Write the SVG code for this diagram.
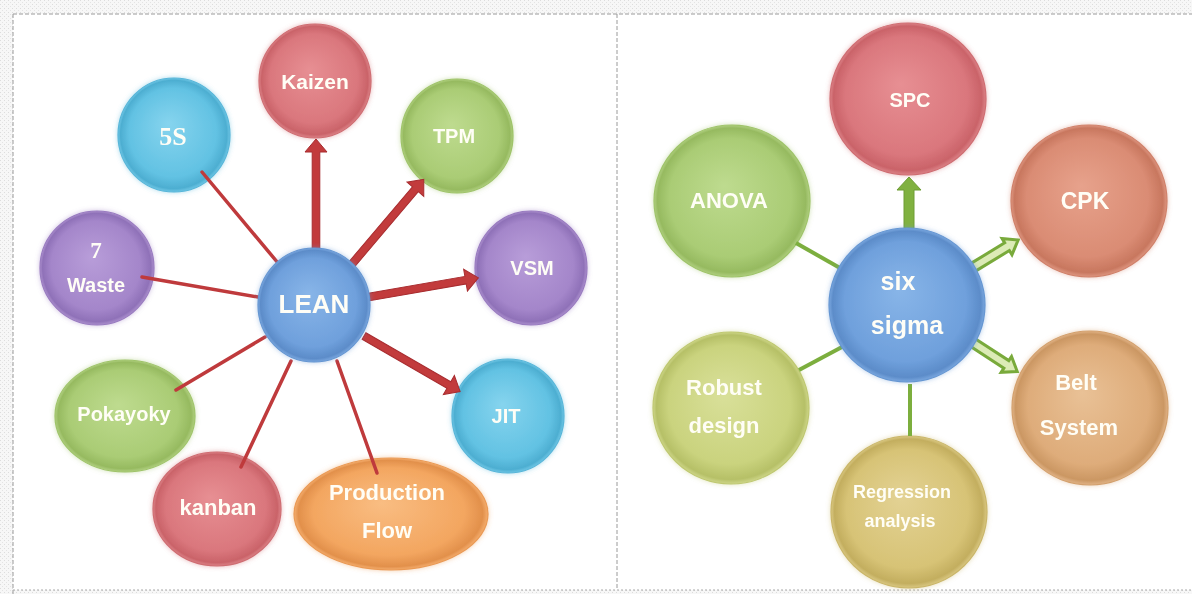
<svg xmlns="http://www.w3.org/2000/svg" xmlns:xlink="http://www.w3.org/1999/xlink" width="1192" height="594" viewBox="0 0 1192 594">
  <style>
    .lbl { font-family: "Liberation Sans", Arial, sans-serif; font-weight: bold; fill: #fffef6; text-anchor: middle; }
    .serif { font-family: "Liberation Serif", "Times New Roman", serif; }
    .node { filter: url(#soft); }
    .frame { fill: none; stroke: #9a9a9a; stroke-width: 1; stroke-dasharray: 4 2; }
    .thin-red { stroke: #bf3a3c; stroke-width: 3.5; stroke-linecap: round; }
    .thin-green { stroke: #7cae3e; stroke-width: 4; stroke-linecap: butt; }
  </style>
  <defs>
    <pattern id="paper" width="4" height="4" patternUnits="userSpaceOnUse">
      <rect width="4" height="4" fill="#f7f7f7"/>
      <rect x="0" y="0" width="1" height="1" fill="#dddddd"/>
      <rect x="2" y="2" width="1" height="1" fill="#e4e4e4"/>
    </pattern>
    <filter id="soft" x="-20%" y="-20%" width="140%" height="140%">
      <feGaussianBlur in="SourceGraphic" stdDeviation="2.5" result="b"/>
      <feColorMatrix in="b" type="matrix" values="1 0 0 0 0  0 1 0 0 0  0 0 1 0 0  0 0 0 0.5 0" result="halo"/>
      <feMerge><feMergeNode in="halo"/><feMergeNode in="SourceGraphic"/></feMerge>
    </filter>
    <!-- node fills: light centre, body colour, darker rim -->
    <radialGradient id="g-red" cx="50%" cy="50%" r="50%" fx="45%" fy="40%">
      <stop offset="0" stop-color="#e78f93"/><stop offset="0.78" stop-color="#da777d"/><stop offset="0.95" stop-color="#ca6369"/><stop offset="1" stop-color="#dc8287"/>
    </radialGradient>
    <radialGradient id="g-sky" cx="50%" cy="50%" r="50%" fx="45%" fy="40%">
      <stop offset="0" stop-color="#86d4ee"/><stop offset="0.78" stop-color="#62c2e3"/><stop offset="0.95" stop-color="#4daed1"/><stop offset="1" stop-color="#6ec6e5"/>
    </radialGradient>
    <radialGradient id="g-green" cx="50%" cy="50%" r="50%" fx="45%" fy="40%">
      <stop offset="0" stop-color="#bedb8f"/><stop offset="0.78" stop-color="#aacc75"/><stop offset="0.95" stop-color="#96ba60"/><stop offset="1" stop-color="#b0cf7f"/>
    </radialGradient>
    <radialGradient id="g-purple" cx="50%" cy="50%" r="50%" fx="45%" fy="40%">
      <stop offset="0" stop-color="#b89dd9"/><stop offset="0.78" stop-color="#a486ca"/><stop offset="0.95" stop-color="#8f71b8"/><stop offset="1" stop-color="#ab8fcd"/>
    </radialGradient>
    <radialGradient id="g-blue" cx="50%" cy="50%" r="50%" fx="45%" fy="40%">
      <stop offset="0" stop-color="#88b5e8"/><stop offset="0.78" stop-color="#6fa0dc"/><stop offset="0.95" stop-color="#5c8cc9"/><stop offset="1" stop-color="#7aa7df"/>
    </radialGradient>
    <radialGradient id="g-orange" cx="50%" cy="50%" r="50%" fx="45%" fy="40%">
      <stop offset="0" stop-color="#f9bd82"/><stop offset="0.78" stop-color="#f3a660"/><stop offset="0.95" stop-color="#e2904b"/><stop offset="1" stop-color="#f5ae6e"/>
    </radialGradient>
    <radialGradient id="g-salmon" cx="50%" cy="50%" r="50%" fx="45%" fy="40%">
      <stop offset="0" stop-color="#e7a28c"/><stop offset="0.78" stop-color="#da8c74"/><stop offset="0.95" stop-color="#c8775f"/><stop offset="1" stop-color="#de9680"/>
    </radialGradient>
    <radialGradient id="g-lime" cx="50%" cy="50%" r="50%" fx="45%" fy="40%">
      <stop offset="0" stop-color="#d9e09a"/><stop offset="0.78" stop-color="#cad37e"/><stop offset="0.95" stop-color="#b6c067"/><stop offset="1" stop-color="#ced688"/>
    </radialGradient>
    <radialGradient id="g-tan" cx="50%" cy="50%" r="50%" fx="45%" fy="40%">
      <stop offset="0" stop-color="#e9c196"/><stop offset="0.78" stop-color="#deac7a"/><stop offset="0.95" stop-color="#cb9763"/><stop offset="1" stop-color="#e1b386"/>
    </radialGradient>
    <radialGradient id="g-khaki" cx="50%" cy="50%" r="50%" fx="45%" fy="40%">
      <stop offset="0" stop-color="#e3d294"/><stop offset="0.78" stop-color="#d7c376"/><stop offset="0.95" stop-color="#c3ae5f"/><stop offset="1" stop-color="#dac882"/>
    </radialGradient>
    <!-- block arrows, pointing right from the origin -->
    <path id="redArrow" d="M0,-3.8 L98,-3.8 L98,-11 L111,0 L98,11 L98,3.8 L0,3.8 Z" fill="#c23b3c" stroke="#a82c2f" stroke-width="1"/>
    <path id="greenArrow" d="M0,-5 L40,-5 L40,-12 L53,0 L40,12 L40,5 L0,5 Z" fill="#80b140" stroke="#6f9d35" stroke-width="1"/>
    <path id="hollowArrow" d="M0,-4.5 L41,-4.5 L41,-9.5 L54,0 L41,9.5 L41,4.5 L0,4.5 Z" fill="#dcebb6" stroke="#79aa3b" stroke-width="3" stroke-linejoin="miter"/>
  </defs>

  <!-- page background and dashed frame -->
  <rect x="0" y="0" width="1192" height="594" fill="url(#paper)"/>
  <rect x="13" y="14" width="1185" height="576" fill="#ffffff"/>
  <line class="frame" x1="13" y1="14" x2="1192" y2="14"/>
  <line class="frame" x1="13" y1="14" x2="13" y2="594"/>
  <line class="frame" x1="617" y1="14" x2="617" y2="590"/>
  <line x1="13" y1="590" x2="1192" y2="590" stroke="#aaaaaa" stroke-width="1" stroke-dasharray="2 2"/>

  <!-- LEAN: outer nodes -->
  <g id="kaizen" class="node"><ellipse cx="315" cy="81" rx="56" ry="57" fill="url(#g-red)" stroke="#cf6d72" stroke-width="1.2"/><text class="lbl" x="315" y="89" font-size="21">Kaizen</text></g>
  <g id="five-s" class="node"><ellipse cx="174" cy="135" rx="56" ry="57" fill="url(#g-sky)" stroke="#58b6d9" stroke-width="1.2"/><text class="lbl serif" x="173" y="145" font-size="26">5S</text></g>
  <g id="tpm" class="node"><ellipse cx="457" cy="136" rx="56" ry="57" fill="url(#g-green)" stroke="#9fc46a" stroke-width="1.2"/><text class="lbl" x="454" y="143" font-size="20">TPM</text></g>
  <g id="seven-waste" class="node"><ellipse cx="97" cy="268" rx="57" ry="57" fill="url(#g-purple)" stroke="#997bc0" stroke-width="1.2"/><text class="lbl serif" x="96" y="258" font-size="23">7</text><text class="lbl" x="96" y="292" font-size="20">Waste</text></g>
  <g id="vsm" class="node"><ellipse cx="531" cy="268" rx="56" ry="57" fill="url(#g-purple)" stroke="#997bc0" stroke-width="1.2"/><text class="lbl" x="532" y="275" font-size="20">VSM</text></g>
  <g id="pokayoky" class="node"><ellipse cx="125" cy="416" rx="70" ry="56" fill="url(#g-green)" stroke="#9fc46a" stroke-width="1.2"/><text class="lbl" x="124" y="421" font-size="20">Pokayoky</text></g>
  <g id="jit" class="node"><ellipse cx="508" cy="416" rx="56" ry="57" fill="url(#g-sky)" stroke="#58b6d9" stroke-width="1.2"/><text class="lbl" x="506" y="423" font-size="20">JIT</text></g>
  <g id="kanban" class="node"><ellipse cx="217" cy="509" rx="64" ry="57" fill="url(#g-red)" stroke="#cf6d72" stroke-width="1.2"/><text class="lbl" x="218" y="515" font-size="22">kanban</text></g>
  <g id="production-flow" class="node"><ellipse cx="391" cy="514" rx="97" ry="56" fill="url(#g-orange)" stroke="#ea9a55" stroke-width="1.2"/><text class="lbl" x="387" y="500" font-size="22">Production</text><text class="lbl" x="387" y="538" font-size="22">Flow</text></g>

  <!-- six sigma: outer nodes -->
  <g id="spc" class="node"><ellipse cx="908" cy="99" rx="78" ry="76" fill="url(#g-red)" stroke="#cf6d72" stroke-width="1.2"/><text class="lbl" x="910" y="107" font-size="20">SPC</text></g>
  <g id="anova" class="node"><ellipse cx="732" cy="201" rx="78" ry="76" fill="url(#g-green)" stroke="#9fc46a" stroke-width="1.2"/><text class="lbl" x="729" y="208" font-size="22">ANOVA</text></g>
  <g id="cpk" class="node"><ellipse cx="1089" cy="201" rx="78" ry="76" fill="url(#g-salmon)" stroke="#d0816a" stroke-width="1.2"/><text class="lbl" x="1085" y="209" font-size="23">CPK</text></g>
  <g id="robust-design" class="node"><ellipse cx="731" cy="408" rx="78" ry="76" fill="url(#g-lime)" stroke="#bfc871" stroke-width="1.2"/><text class="lbl" x="724" y="395" font-size="22">Robust</text><text class="lbl" x="724" y="433" font-size="22">design</text></g>
  <g id="belt-system" class="node"><ellipse cx="1090" cy="408" rx="78" ry="77" fill="url(#g-tan)" stroke="#d3a06d" stroke-width="1.2"/><text class="lbl" x="1076" y="390" font-size="22">Belt</text><text class="lbl" x="1079" y="435" font-size="22">System</text></g>
  <g id="regression-analysis" class="node"><ellipse cx="909" cy="512" rx="78" ry="76" fill="url(#g-khaki)" stroke="#cab669" stroke-width="1.2"/><text class="lbl" x="902" y="498" font-size="18">Regression</text><text class="lbl" x="900" y="527" font-size="18">analysis</text></g>

  <!-- connectors -->
  <g id="connectors">
    <line class="thin-red" x1="202" y1="172" x2="278" y2="263"/>
    <line class="thin-red" x1="142" y1="277" x2="258" y2="297"/>
    <line class="thin-red" x1="176" y1="390" x2="265" y2="337"/>
    <line class="thin-red" x1="241" y1="467" x2="291" y2="361"/>
    <line class="thin-red" x1="337" y1="361" x2="377" y2="473"/>
    <use xlink:href="#redArrow" href="#redArrow" transform="translate(316,250) rotate(-90)"/>
    <use xlink:href="#redArrow" href="#redArrow" transform="translate(352,264) rotate(-49.7)"/>
    <use xlink:href="#redArrow" href="#redArrow" transform="translate(369,297) rotate(-9.9)"/>
    <use xlink:href="#redArrow" href="#redArrow" transform="translate(364,336) rotate(30)"/>

    <line class="thin-green" x1="796" y1="243" x2="840" y2="268"/>
    <line class="thin-green" x1="799" y1="370" x2="842" y2="347"/>
    <line class="thin-green" x1="910" y1="384" x2="910" y2="436"/>
    <use xlink:href="#greenArrow" href="#greenArrow" transform="translate(909,230) rotate(-90)"/>
    <use xlink:href="#hollowArrow" href="#hollowArrow" transform="translate(972,268) rotate(-31.3)"/>
    <use xlink:href="#hollowArrow" href="#hollowArrow" transform="translate(972,342) rotate(33.1)"/>
  </g>

  <!-- hub nodes -->
  <g id="lean" class="node"><ellipse cx="314" cy="305" rx="56" ry="57" fill="url(#g-blue)" stroke="#6596d2" stroke-width="1.2"/><text class="lbl" x="314" y="313" font-size="26">LEAN</text></g>
  <g id="six-sigma" class="node"><ellipse cx="907" cy="305" rx="78" ry="77" fill="url(#g-blue)" stroke="#6596d2" stroke-width="1.2"/><text class="lbl" x="898" y="290" font-size="25">six</text><text class="lbl" x="907" y="334" font-size="25">sigma</text></g>
</svg>
